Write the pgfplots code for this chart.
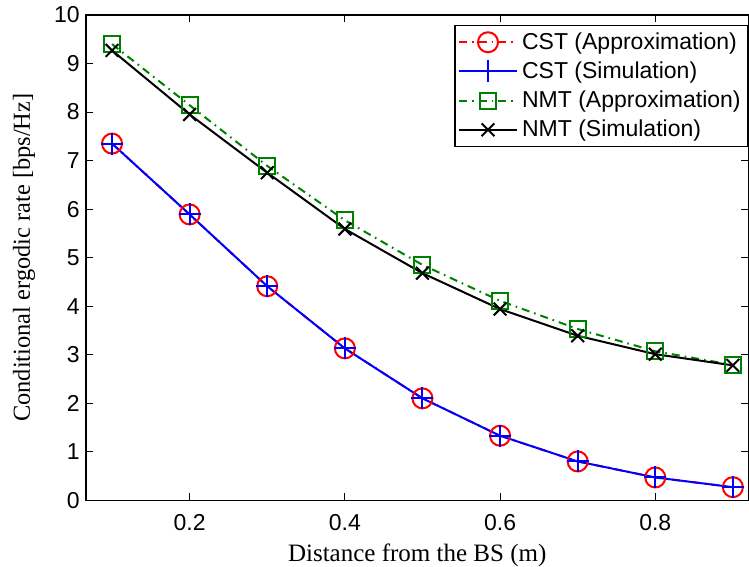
\documentclass[border=0pt]{standalone}
\usepackage{fontspec}
\setmainfont{Liberation Sans}
\newfontfamily\timesfont{Liberation Serif}
\usepackage{pgfplots}
\pgfplotsset{compat=1.18}
\definecolor{mgreen}{rgb}{0,0.5,0}
\begin{document}
\begin{tikzpicture}
\begin{axis}[
 name=ax,
 scale only axis,
 width=331pt, height=242.5pt,
 xmin=0.0665, xmax=0.92, ymin=0, ymax=10,
 xtick={0.2,0.4,0.6,0.8}, xticklabels={0.2,0.4,0.6,0.8},
 ytick={0,1,...,10},
 tick align=inside, major tick length=3.5pt,
 /pgf/number format/assume math mode=true,
 tick label style={font=\fontsize{11.5}{13}\selectfont},
 yticklabel style={inner sep=0pt, xshift=-3pt},
 xticklabel style={anchor=north, inner sep=0pt, yshift=-7pt},
 xlabel={\timesfont Distance from the BS (m)},
 ylabel={\timesfont Conditional ergodic rate [bps/Hz]},
 xlabel style={font=\fontsize{12.5}{14}\selectfont, at={([yshift=-30.5pt]axis description cs:0.5,0)}, anchor=base},
 ylabel style={font=\fontsize{12.2}{14}\selectfont, at={([xshift=-31pt]axis description cs:0,0.5)}, anchor=center},
 axis line style={line width=0.7pt},
 every tick/.style={line width=0.5pt},
 legend style={at={(1,0.98)}, anchor=north east, font=\fontsize{11.5}{13}\selectfont, draw=black, line width=0.7pt, inner sep=1.5pt, row sep=0.75pt},
 legend cell align=left,
 legend image post style={line width=1pt},
 legend image code/.code={\draw[#1] (0cm,0cm) -- (1.02cm,0cm); \draw[#1,solid] plot coordinates {(0.51cm,0cm)};},
]
\addplot[red, line width=1pt, dash pattern=on 4pt off 2.5pt on 0.8pt off 2.5pt, mark=o, mark size=5pt, mark options={solid}] coordinates {
(0.1,7.35) (0.2,5.89) (0.3,4.41) (0.4,3.13) (0.5,2.1) (0.6,1.33) (0.7,0.8) (0.8,0.47) (0.9,0.27)};
\addlegendentry{CST (Approximation)}
\addplot[blue, line width=1pt, mark=+, mark size=5.5pt, mark options={solid}] coordinates {
(0.1,7.35) (0.2,5.89) (0.3,4.41) (0.4,3.13) (0.5,2.1) (0.6,1.33) (0.7,0.8) (0.8,0.47) (0.9,0.27)};
\addlegendentry{CST (Simulation)}
\addplot[mgreen, line width=1pt, dash pattern=on 4pt off 2.5pt on 0.8pt off 2.5pt, mark=square, mark size=4pt, mark options={solid}] coordinates {
(0.1,9.4) (0.2,8.14) (0.3,6.89) (0.4,5.77) (0.5,4.85) (0.6,4.11) (0.7,3.53) (0.8,3.07) (0.9,2.79)};
\addlegendentry{NMT (Approximation)}
\addplot[black, line width=1pt, mark=x, mark size=4.5pt, mark options={solid}] coordinates {
(0.1,9.27) (0.2,7.95) (0.3,6.75) (0.4,5.59) (0.5,4.68) (0.6,3.94) (0.7,3.39) (0.8,3.01) (0.9,2.78)};
\addlegendentry{NMT (Simulation)}
\end{axis}
\pgfresetboundingbox
\path[use as bounding box] ([shift={(-43pt,-33pt)}]ax.south west) rectangle ([shift={(0.3pt,7.5pt)}]ax.north east);
\end{tikzpicture}
\end{document}
